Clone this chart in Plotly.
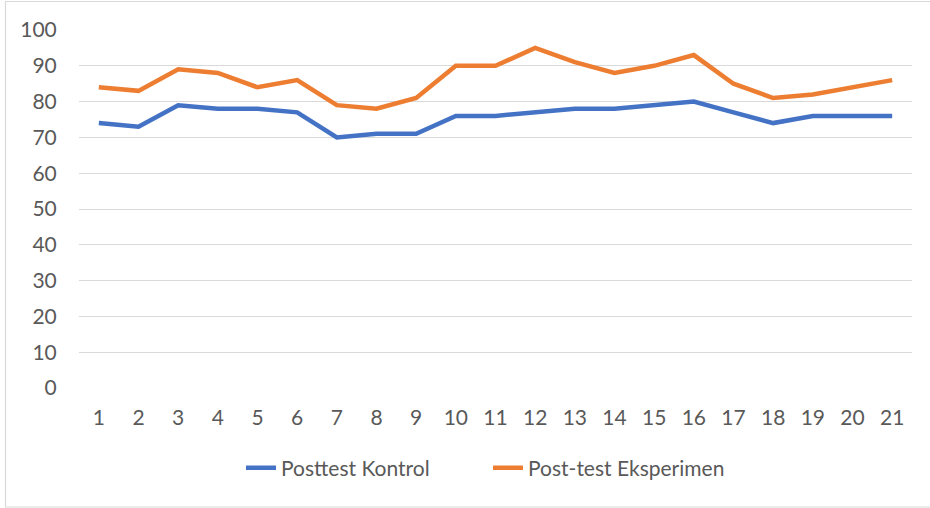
import plotly.graph_objects as go

categories = [str(i) for i in range(1, 22)]
kontrol = [74, 73, 79, 78, 78, 77, 70, 71, 71, 76, 76, 77, 78, 78, 79, 80, 77, 74, 76, 76, 76]
eksperimen = [84, 83, 89, 88, 84, 86, 79, 78, 81, 90, 90, 95, 91, 88, 90, 93, 85, 81, 82, 84, 86]
y_ticks = [0, 10, 20, 30, 40, 50, 60, 70, 80, 90, 100]

W, H = 930, 508
L, R, T, B = 79, 18, 30, 120
pw, ph = W - L - R, H - T - B

def px_x(x):
    return (x - L) / pw

def px_y(y):
    return (H - B - y) / ph

FONT = "Lato, 'Liberation Sans', Arial, sans-serif"
FS = 21
TXT = "#595959"

fig = go.Figure()
fig.add_trace(go.Scatter(x=categories, y=kontrol, mode="lines", name="Posttest Kontrol",
                         line=dict(color="#4472C4", width=4.5)))
fig.add_trace(go.Scatter(x=categories, y=eksperimen, mode="lines", name="Post-test Eksperimen",
                         line=dict(color="#ED7D31", width=4.5)))

fig.update_layout(
    width=W, height=H,
    margin=dict(l=L, r=R, t=T, b=B, pad=0, autoexpand=False),
    paper_bgcolor="white", plot_bgcolor="white",
    font=dict(family=FONT, size=FS, color=TXT),
    showlegend=True,
    legend=dict(orientation="h", xref="paper", yref="paper",
                x=px_x(241), y=px_y(468), xanchor="left", yanchor="middle",
                font=dict(family=FONT, size=FS, color=TXT),
                entrywidth=202, entrywidthmode="pixels",
                itemwidth=30, bgcolor="rgba(0,0,0,0)"),
    xaxis=dict(type="category", range=[-0.5, 20.5], showgrid=False, zeroline=False,
               showline=False, automargin=False,
               ticks="outside", ticklen=11, tickcolor="rgba(0,0,0,0)",
               tickfont=dict(family=FONT, size=FS, color=TXT), fixedrange=True),
    yaxis=dict(range=[0, 100], tickvals=y_ticks, showgrid=True, gridcolor="#D9D9D9",
               gridwidth=1, zeroline=False, showline=False, automargin=False,
               ticks="outside", ticklen=17, tickcolor="rgba(0,0,0,0)",
               tickfont=dict(family=FONT, size=FS, color=TXT), fixedrange=True),
    shapes=[dict(type="rect", xref="paper", yref="paper",
                 x0=px_x(5.5), x1=px_x(935), y0=px_y(507), y1=px_y(1.5),
                 line=dict(color="#D9D9D9", width=1.2), fillcolor="rgba(0,0,0,0)",
                 layer="below")],
)

fig.write_html("out.html", config={"displayModeBar": False},
               post_script="document.body.style.margin='0';document.body.style.overflow='hidden';")
